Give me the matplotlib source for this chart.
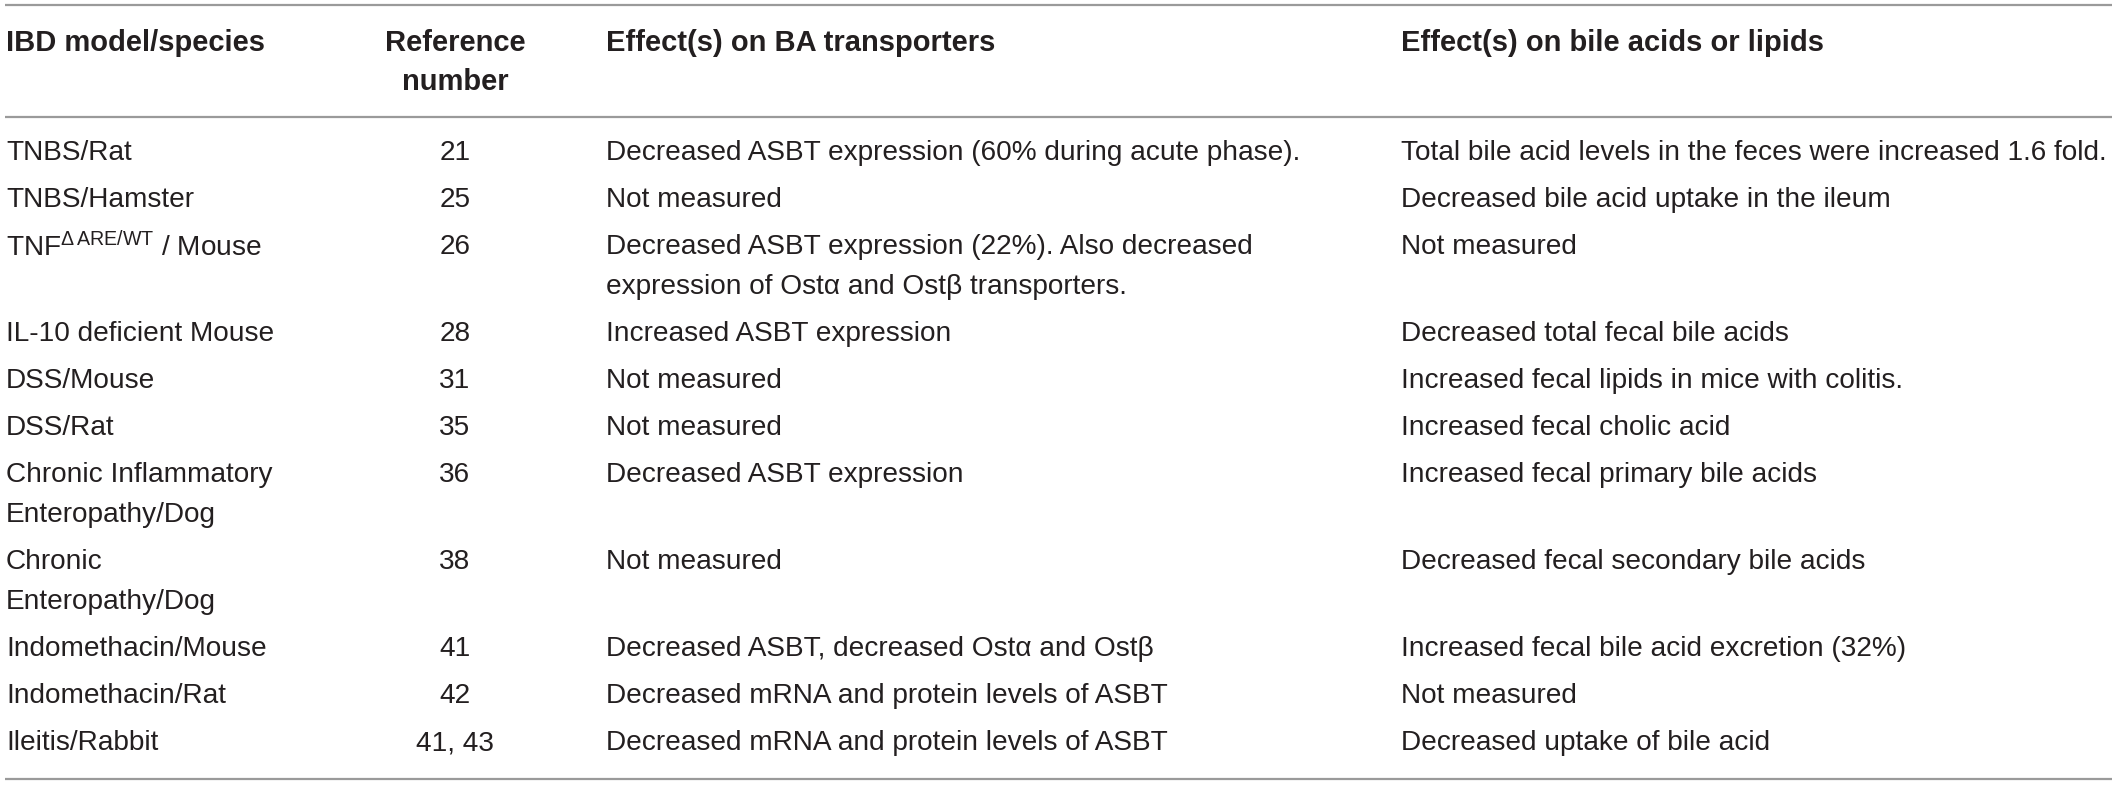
import matplotlib.pyplot as plt

plt.rcParams['font.family'] = ['Liberation Sans', 'DejaVu Sans']
plt.rcParams['mathtext.fontset'] = 'custom'
plt.rcParams['mathtext.rm'] = 'Liberation Sans'
plt.rcParams['mathtext.it'] = 'Liberation Sans:italic'
plt.rcParams['mathtext.bf'] = 'Liberation Sans:bold'

# table content
headers = ['IBD model/species', 'Reference\nnumber', 'Effect(s) on BA transporters',
           'Effect(s) on bile acids or lipids']
models = ['TNBS/Rat', 'TNBS/Hamster', r'TNF$^{\Delta\,\mathrm{ARE/WT}}$ / Mouse',
          'IL-10 deficient Mouse', 'DSS/Mouse', 'DSS/Rat',
          'Chronic Inflammatory\nEnteropathy/Dog', 'Chronic\nEnteropathy/Dog',
          'Indomethacin/Mouse', 'Indomethacin/Rat', 'Ileitis/Rabbit']
refs = ['21', '25', '26', '28', '31', '35', '36', '38', '41', '42', '41, 43']
transporters = ['Decreased ASBT expression (60% during acute phase).',
                'Not measured',
                'Decreased ASBT expression (22%). Also decreased\nexpression of Ost\u03b1 and Ost\u03b2 transporters.',
                'Increased ASBT expression',
                'Not measured',
                'Not measured',
                'Decreased ASBT expression',
                'Not measured',
                'Decreased ASBT, decreased Ost\u03b1 and Ost\u03b2',
                'Decreased mRNA and protein levels of ASBT',
                'Decreased mRNA and protein levels of ASBT']
lipids = ['Total bile acid levels in the feces were increased 1.6 fold.',
          'Decreased bile acid uptake in the ileum',
          'Not measured',
          'Decreased total fecal bile acids',
          'Increased fecal lipids in mice with colitis.',
          'Increased fecal cholic acid',
          'Increased fecal primary bile acids',
          'Decreased fecal secondary bile acids',
          'Increased fecal bile acid excretion (32%)',
          'Not measured',
          'Decreased uptake of bile acid']

W, H = 2118, 785
fig = plt.figure(figsize=(W / 100, H / 100), dpi=100)
ax = fig.add_axes([0, 0, 1, 1])
ax.set_xlim(0, W)
ax.set_ylim(H, 0)
ax.axis('off')

txt_color = '#231f20'
line_color = '#9a9a9a'
fs = 20.2
fs_head = 21
line_h = 40
row_gap = 47

# column anchors (x, alignment)
cols = [(6, 'left'), (455, 'center'), (606, 'left'), (1401, 'left')]

# rules
for y in (5, 117, 779):
    ax.plot([5, 2112], [y, y], color=line_color, lw=1.6, solid_capstyle='butt')

# header
for (x, ha), h in zip(cols, headers):
    for k, part in enumerate(h.split('\n')):
        ax.text(x, 43 + k * 39, part, ha=ha, va='center', fontsize=fs_head,
                fontweight='bold', color=txt_color)

# body
y = 153
for row in zip(models, refs, transporters, lipids):
    n_lines = max(len(c.split('\n')) for c in row)
    for (x, ha), cell in zip(cols, row):
        for k, part in enumerate(cell.split('\n')):
            ax.text(x, y + k * line_h, part, ha=ha, va='center', fontsize=fs,
                    color=txt_color)
    y += row_gap + (n_lines - 1) * line_h

fig.savefig('out.png', dpi=100)
